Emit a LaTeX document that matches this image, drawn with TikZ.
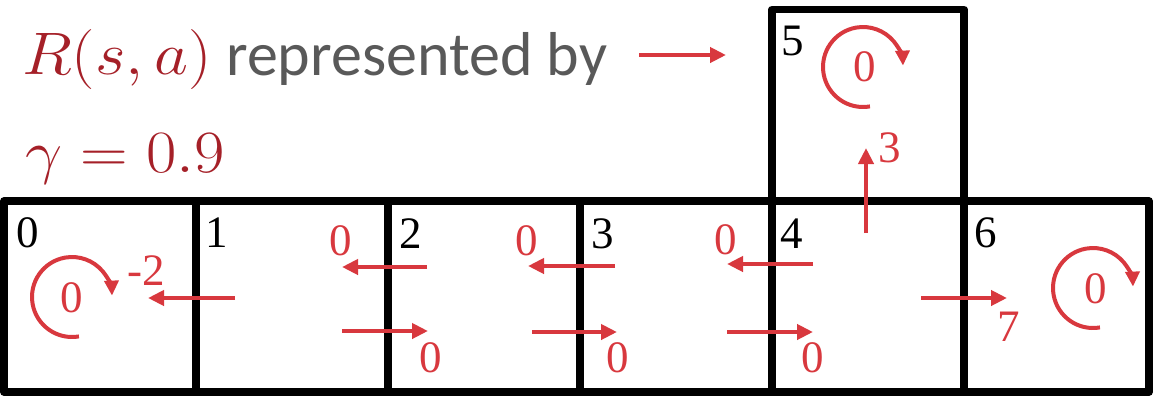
\RequirePackage{fix-cm}
\documentclass[tikz,border=0pt]{standalone}
\usepackage{fontspec}
\newfontfamily\carlito{Carlito}
\newfontfamily\digitfont{Liberation Serif}
\usetikzlibrary{arrows.meta,calc}
\definecolor{arrred}{RGB}{216,56,62}
\definecolor{txtred}{RGB}{165,32,40}
\definecolor{txtgray}{RGB}{89,89,89}
\tikzset{
  gridline/.style={line width=7.5pt, black, line join=round},
  rarrow/.style={line width=4pt, arrred, -{Triangle[length=16pt,width=15pt]}},
  rloop/.style={line width=4pt, arrred, -{Triangle[length=15pt,width=14pt]}},
  cellnum/.style={inner sep=0pt, anchor=base west, font=\digitfont\fontsize{45}{50}\selectfont, black},
  rlabel/.style={inner sep=0pt, font=\digitfont\fontsize{45}{50}\selectfont, text=arrred},
  titlemath/.style={inner sep=0pt, anchor=base west, text=txtred, xscale=1.1, font=\fontsize{60}{64}\selectfont},
}
\begin{document}
\begin{tikzpicture}[x=1pt,y=-1pt]
\useasboundingbox (0,0) rectangle (1153,397);
% grid
\draw[gridline] (4,201) rectangle (1149,392);
\foreach \xx in {196,388,580,772,964} \draw[gridline] (\xx,201) -- (\xx,392);
\draw[gridline] (772,201) -- (772,9.5) -- (964,9.5) -- (964,201);
% cell numbers
\node[cellnum] (n0) at (16,247) {0};
\node[cellnum] (n1) at (205,247) {1};
\node[cellnum] (n2) at (399,248) {2};
\node[cellnum] (n3) at (591,248) {3};
\node[cellnum] (n4) at (780,248) {4};
\node[cellnum] (n5) at (781,55) {5};
\node[cellnum] (n6) at (974,247) {6};
% title
\node[titlemath] (rsa) at (22,74) {$R(s,a)$};
\node[inner sep=0pt, anchor=base west, text=txtgray, font=\carlito\fontsize{62}{66}\selectfont] (rep) at (226,75) {represented by};
\node[titlemath] (gam) at (25,172) {$\gamma=0.9$};
\coordinate (t1) at (639,55); \coordinate (t2) at (726,55);
\draw[rarrow] (t1) -- (t2);
% horizontal arrows
\coordinate (a10s) at (235,298); \coordinate (a10e) at (148,298);
\coordinate (a21s) at (427,267); \coordinate (a21e) at (342,267);
\coordinate (a12s) at (342,331); \coordinate (a12e) at (428,331);
\coordinate (a32s) at (615,266); \coordinate (a32e) at (528,266);
\coordinate (a23s) at (532,332); \coordinate (a23e) at (617,332);
\coordinate (a43s) at (813,264); \coordinate (a43e) at (727,264);
\coordinate (a34s) at (727,332); \coordinate (a34e) at (813,332);
\coordinate (a46s) at (921,298); \coordinate (a46e) at (1007,298);
\coordinate (a45s) at (866,233); \coordinate (a45e) at (866,148);
\foreach \p in {a10,a21,a12,a32,a23,a43,a34,a46,a45} \draw[rarrow] (\p s) -- (\p e);
\node[rlabel] (l10) at (146,271) {-2};
\node[rlabel] (l21) at (341,241) {0};
\node[rlabel] (l12) at (431,358) {0};
\node[rlabel] (l32) at (527,241) {0};
\node[rlabel] (l23) at (618,358) {0};
\node[rlabel] (l43) at (726,240) {0};
\node[rlabel] (l34) at (813,358) {0};
\node[rlabel] (l46) at (1009,327) {7};
\node[rlabel] (l45) at (890,148) {3};
% self loops
\coordinate (c0) at (72,297);
\coordinate (c5) at (863,67);
\coordinate (c6) at (1093,288);
\foreach \c in {c0,c5,c6} \draw[rloop] ($(\c)+(-280:40)$) arc[start angle=-280, end angle=-2, radius=40];
\node[rlabel] (s0) at (72,298) {0};
\node[rlabel] (s5) at (865,67) {0};
\node[rlabel] (s6) at (1096,289) {0};
\end{tikzpicture}
\end{document}
